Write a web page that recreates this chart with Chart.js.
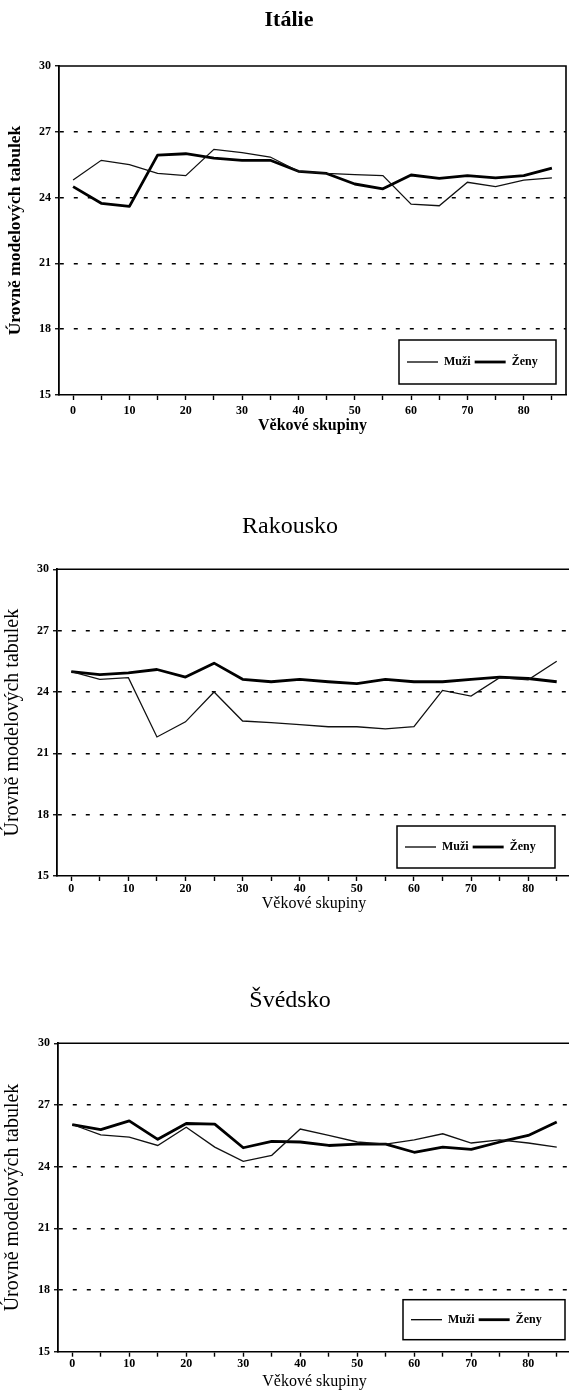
<!DOCTYPE html>
<html>
<head>
<meta charset="utf-8">
<script src="https://cdn.jsdelivr.net/npm/chart.js@4.4.0/dist/chart.umd.min.js"></script>
<style>
  html, body { margin: 0; padding: 0; background: #fff; overflow: hidden; width: 569px; height: 1392px; }
  .panel { position: absolute; left: 0; }
</style>
</head>
<body>
<div class="panel" style="top:0"><canvas id="italy" width="569" height="440"></canvas></div>
<div class="panel" style="top:470px"><canvas id="austria" width="580" height="450"></canvas></div>
<div class="panel" style="top:950px"><canvas id="sweden" width="580" height="442"></canvas></div>
<script>
// age groups on the x axis, only every other one gets a label
const ages = [0, 5, 10, 15, 20, 25, 30, 35, 40, 45, 50, 55, 60, 65, 70, 75, 80, 85];
const xTickLabels = [0, 10, 20, 30, 40, 50, 60, 70, 80];
const yTicks = [15, 18, 21, 24, 27, 30];
const seriesNames = ['Muži', 'Ženy'];

const italyMen    = [24.8, 25.7, 25.5, 25.1, 25.0, 26.2, 26.05, 25.85, 25.2, 25.1, 25.05, 25.0, 23.7, 23.63, 24.7, 24.5, 24.8, 24.9];
const italyWomen  = [24.5, 23.74, 23.6, 25.94, 26.0, 25.8, 25.7, 25.7, 25.2, 25.1, 24.62, 24.4, 25.03, 24.88, 25.0, 24.9, 25.0, 25.34];

const austriaMen   = [25.0, 24.62, 24.7, 21.8, 22.54, 24.0, 22.58, 22.5, 22.4, 22.3, 22.3, 22.2, 22.3, 24.08, 23.8, 24.7, 24.6, 25.5];
const austriaWomen = [25.0, 24.85, 24.93, 25.1, 24.73, 25.41, 24.62, 24.5, 24.62, 24.5, 24.41, 24.62, 24.5, 24.5, 24.62, 24.73, 24.66, 24.5];

const swedenMen   = [26.05, 25.55, 25.44, 25.03, 25.92, 24.95, 24.26, 24.55, 25.83, 25.52, 25.2, 25.1, 25.3, 25.6, 25.15, 25.3, 25.15, 24.95];
const swedenWomen = [26.05, 25.8, 26.23, 25.33, 26.1, 26.07, 24.92, 25.23, 25.2, 25.03, 25.1, 25.1, 24.7, 24.95, 24.84, 25.2, 25.52, 26.17];

const SERIF = '"Liberation Serif", "Times New Roman", serif';

// top/right edges of the plot box + the small framed legend in the lower right corner
const frameAndLegend = {
  id: 'frameAndLegend',
  afterDraw(chart, args, opts) {
    const { ctx, chartArea: a } = chart;
    ctx.save();
    ctx.strokeStyle = '#000';
    ctx.lineWidth = 1.6;
    ctx.beginPath();
    ctx.moveTo(a.left, a.top);
    ctx.lineTo(a.right, a.top);
    ctx.lineTo(a.right, a.bottom);
    ctx.stroke();

    const L = opts.box;
    const bx = a.right - L.right - L.width;
    const by = a.bottom - L.bottom - L.height;
    ctx.fillStyle = '#fff';
    ctx.fillRect(bx, by, L.width, L.height);
    ctx.lineWidth = 1.5;
    ctx.strokeRect(bx, by, L.width, L.height);

    ctx.font = 'bold 12px ' + SERIF;
    ctx.textBaseline = 'middle';
    ctx.fillStyle = '#000';
    const cy = by + L.height / 2;
    let x = bx + 8;
    chart.data.datasets.forEach(ds => {
      ctx.lineWidth = ds.borderWidth;
      ctx.beginPath();
      ctx.moveTo(x, cy);
      ctx.lineTo(x + 31, cy);
      ctx.stroke();
      x += 37;
      ctx.fillText(ds.label, x, cy);
      x += ctx.measureText(ds.label).width + 4;
    });
    ctx.restore();
  }
};

function makeChart(id, title, men, women, p) {
  const yMin = yTicks[0];
  const yMax = yTicks[yTicks.length - 1];
  return new Chart(document.getElementById(id), {
    type: 'line',
    data: {
      labels: ages,
      datasets: [
        { label: seriesNames[0], data: men, borderColor: '#111', borderWidth: 1.3, pointRadius: 0, tension: 0 },
        { label: seriesNames[1], data: women, borderColor: '#000', borderWidth: 2.8, pointRadius: 0, tension: 0, borderJoinStyle: 'round' }
      ]
    },
    plugins: [frameAndLegend],
    options: {
      responsive: false,
      animation: false,
      devicePixelRatio: 1,
      layout: { padding: { left: p.padLeft, right: p.padRight, top: 0, bottom: 0 } },
      plugins: {
        legend: { display: false },
        tooltip: { enabled: false },
        title: {
          display: true,
          text: title,
          color: '#000',
          font: { family: SERIF, size: p.titleSize, weight: p.titleWeight, lineHeight: 1.2 },
          padding: { top: p.titleTop, bottom: p.titleBottom }
        },
        frameAndLegend: { box: p.box }
      },
      scales: {
        x: {
          type: 'category',
          offset: true,
          afterFit: s => { s.height = p.xHeight; },
          grid: { drawOnChartArea: false, drawTicks: true, tickLength: 5, tickColor: '#000', tickWidth: 1.4 },
          border: { display: true, color: '#000', width: 1.6 },
          ticks: {
            autoSkip: false,
            maxRotation: 0,
            color: '#000',
            padding: p.xPad,
            font: { family: SERIF, size: 12, weight: 'bold' },
            callback: (v, i) => xTickLabels.includes(ages[i]) ? String(ages[i]) : ''
          },
          title: {
            display: true,
            text: 'Věkové skupiny',
            color: '#000',
            font: { family: SERIF, size: 16, weight: p.axisWeight, lineHeight: 1.2 },
            padding: { top: 0, bottom: p.xTitleBottom }
          }
        },
        y: {
          min: yMin,
          max: yMax,
          afterFit: s => { s.width = p.yWidth; },
          grid: {
            color: c => (c.tick && (c.tick.value === yMin || c.tick.value === yMax)) ? 'rgba(0,0,0,0)' : '#000',
            lineWidth: 1.5,
            drawTicks: true,
            tickLength: 4,
            tickColor: '#000',
            tickWidth: 1.3
          },
          border: { display: true, color: '#000', width: 1.8, dash: [4, 10] },
          ticks: {
            stepSize: yTicks[1] - yTicks[0],
            color: '#000',
            padding: 4,
            font: { family: SERIF, size: 12, weight: 'bold' }
          },
          title: {
            display: true,
            text: 'Úrovně modelových tabulek',
            color: '#000',
            font: { family: SERIF, size: p.yTitleSize, weight: p.axisWeight, lineHeight: 1.2 },
            padding: { top: p.yTitleTop, bottom: 0 }
          }
        }
      }
    }
  });
}

makeChart('italy', 'Itálie', italyMen, italyWomen, {
  padLeft: 12, padRight: 3, yWidth: 47, xHeight: 45, xPad: 3.3, xTitleBottom: 5,
  yTitleSize: 17.5, yTitleTop: -7.5,
  titleSize: 22, titleTop: 6.8, titleBottom: 32.8, titleWeight: 'bold', axisWeight: 'bold',
  box: { right: 10, bottom: 11, width: 157, height: 44 }
});

makeChart('austria', 'Rakousko', austriaMen, austriaWomen, {
  padLeft: 9, padRight: 9, yWidth: 48, xHeight: 44, xPad: 1, xTitleBottom: 6.4,
  yTitleSize: 20, yTitleTop: -8,
  titleSize: 24, titleTop: 42, titleBottom: 28.5, titleWeight: 'normal', axisWeight: 'normal',
  box: { right: 16, bottom: 8, width: 158, height: 42 }
});

makeChart('sweden', 'Švédsko', swedenMen, swedenWomen, {
  padLeft: 9, padRight: 9, yWidth: 49, xHeight: 40.3, xPad: 0, xTitleBottom: 0.4,
  yTitleSize: 20, yTitleTop: -8,
  titleSize: 24, titleTop: 36, titleBottom: 28.5, titleWeight: 'normal', axisWeight: 'normal',
  box: { right: 6, bottom: 12, width: 162, height: 40 }
});
</script>
</body>
</html>
